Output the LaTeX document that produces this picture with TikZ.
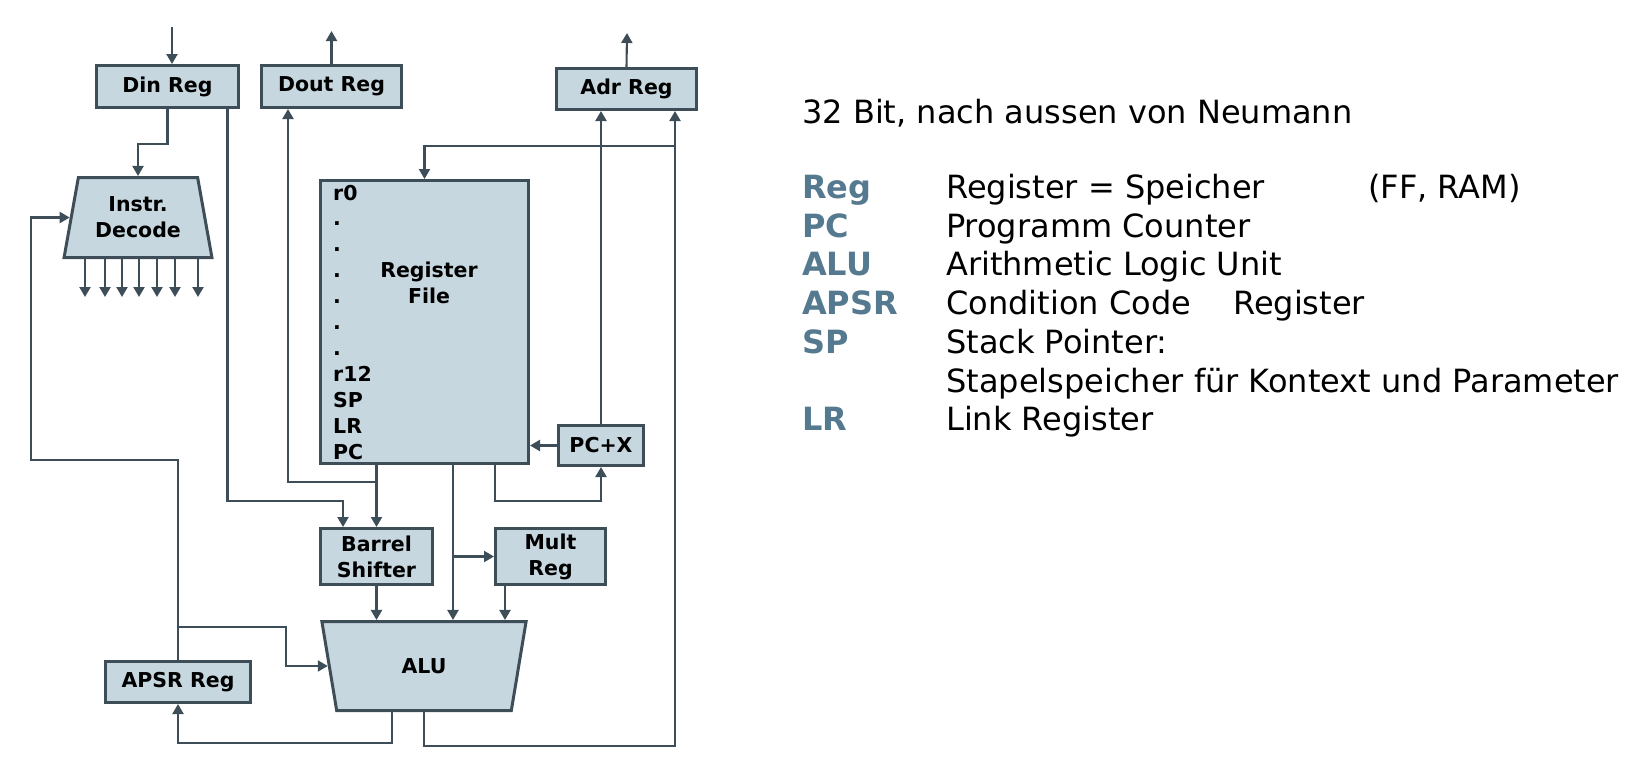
\documentclass[tikz,border=0pt]{standalone}
\usepackage{fontspec}
\setmainfont{DejaVu Sans}
\usetikzlibrary{arrows.meta,shapes.geometric}

\definecolor{boxfill}{HTML}{C6D7E0}
\definecolor{wirecol}{HTML}{3D4E59}
\definecolor{abbrcol}{HTML}{557A90}

\begin{document}
\begin{tikzpicture}[x=1pt,y=-1pt,
		block/.style={draw=wirecol,fill=boxfill,line width=3pt,inner sep=0pt,align=center,font=\bfseries\fontsize{20.5}{26}\selectfont},
		conn/.style={draw=wirecol,line width=2.1pt,-{Triangle[length=10pt,width=11pt]}},
		regtxt/.style={anchor=base west,inner sep=0pt,font=\bfseries\fontsize{20.5}{24}\selectfont},
		txt/.style={anchor=base west,inner sep=0pt,font=\fontsize{32}{38}\selectfont},
		abbr/.style={txt,text=abbrcol,font=\bfseries\fontsize{32}{38}\selectfont}]
				
				\useasboundingbox (0,0) rectangle (1637,763);
				
				\node[block,minimum width=142,minimum height=42] (din) at (167.5,86.5) {Din Reg};
				\node[block,minimum width=140,minimum height=42] (dout) at (331.5,86.5) {Dout Reg};
				\node[block,minimum width=140,minimum height=41] (adr) at (626.5,89) {Adr Reg};
				\node[block,trapezium,trapezium left angle=76,trapezium right angle=76,trapezium stretches=true,minimum width=148,minimum height=80] (instr) at (138,217.5) {Instr.\\Decode};
				\node[block,minimum width=208,minimum height=283] (regs) at (424.5,322) {};
				\node[block,minimum width=85,minimum height=40] (pcx) at (601,445.5) {PC+X};
				\node[block,minimum width=112,minimum height=56] (shift) at (376.5,556.5) {Barrel\\Shifter};
				\node[block,minimum width=110,minimum height=56] (mult) at (550.5,556.5) {Mult\\Reg};
				\node[block,trapezium,shape border rotate=180,trapezium left angle=76,trapezium right angle=76,trapezium stretches=true,minimum width=205,minimum height=89] (alu) at (424,666) {ALU};
				\node[block,minimum width=145,minimum height=41] (apsr) at (178,682) {APSR Reg};
				
				% register file contents
				\node[font=\bfseries\fontsize{20.5}{26}\selectfont,align=center,inner sep=0pt] (rfname) at (429,283) {Register\\File};
				\foreach \r [count=\i from 0] in {r0,.,.,.,.,.,.,r12,SP,LR,PC}
					\node[regtxt] (row\i) at (333,{200+25.9*\i}) {\r};
				
				\coordinate (datain) at (172,27);
				\coordinate (dataout) at (331.5,31);
				\coordinate (adrout) at (627,33);
				\coordinate (shin) at (343,501);
				\coordinate (doutj) at (376.5,482);
				\coordinate (wb) at (675,146);
				\coordinate (flagbus) at (31,460);
				\coordinate (fj) at (178,627);
				\coordinate (fk) at (286,627);
				
				\draw[conn] (datain) -- (datain |- din.north);
				\draw[conn] (dout.north) -- (dataout);
				\draw[conn] (adr.north) -- (adrout);
				\draw[conn] (din.south) -- ++(0,35) -| (instr.north);
				\draw[conn] ([xshift=60]din.south) |- (shin) -- (shin |- shift.north);
				\draw[conn] (shift.north |- regs.south) -- (shift.north);
				\draw[conn] (doutj) -| ([xshift=-43.5]dout.south);
				\draw[conn] ([xshift=70.5]regs.south) -- ++(0,36) -| (pcx.south);
				\draw[conn] (pcx.west) -- (pcx.west -| regs.east);
				\draw[conn] (pcx.north) -- (pcx.north |- adr.south);
				\draw[conn] (alu.south) -- ++(0,34) -| ([xshift=48.5]adr.south);
				\draw[conn] (wb) -| (regs.north);
				\draw[conn] ([xshift=28.5]regs.south) -- ([xshift=28.5]regs.south |- alu.north);
				\draw[conn] ([xshift=28.5]regs.south |- mult.west) -- (mult.west);
				\draw[conn] (shift.south) -- (shift.south |- alu.north);
				\draw[conn] ([xshift=-45.5]mult.south) -- ([xshift=-45.5]mult.south |- alu.north);
				\draw[conn] ([xshift=-32]alu.south) -- ++(0,31) -| (apsr.south);
				\draw[conn] (apsr.north) |- (flagbus) |- (instr.west);
				\draw[conn] (fj) -- (fk) |- (alu.west);
				\foreach \dx in {-53,-33,-16,1,19,37,60}
					\draw[conn] ([xshift=\dx]instr.south) -- ++(0,38);
				
				\node[txt] (title) at (802,123) {32 Bit, nach aussen von Neumann};
				\node[abbr] (kreg) at (802,198) {Reg};
				\node[txt] (dreg) at (946,198) {Register = Speicher};
				\node[txt] (dram) at (1368,198) {(FF, RAM)};
				\node[abbr] (kpc) at (802,237) {PC};
				\node[txt] (dpc) at (946,237) {Programm Counter};
				\node[abbr] (kalu) at (802,275) {ALU};
				\node[txt] (dalu) at (946,275) {Arithmetic Logic Unit};
				\node[abbr] (kapsr) at (802,314) {APSR};
				\node[txt] (dapsr) at (946,314) {Condition Code};
				\node[txt] (dapsrb) at (1233,314) {Register};
				\node[abbr] (ksp) at (802,353) {SP};
				\node[txt] (dsp) at (946,353) {Stack Pointer:};
				\node[txt] (dspb) at (946,392) {Stapelspeicher für Kontext und Parameter};
				\node[abbr] (klr) at (802,430) {LR};
				\node[txt] (dlr) at (946,430) {Link Register};
				
				%\node at (946,470) {};
			\end{tikzpicture}
\end{document}
